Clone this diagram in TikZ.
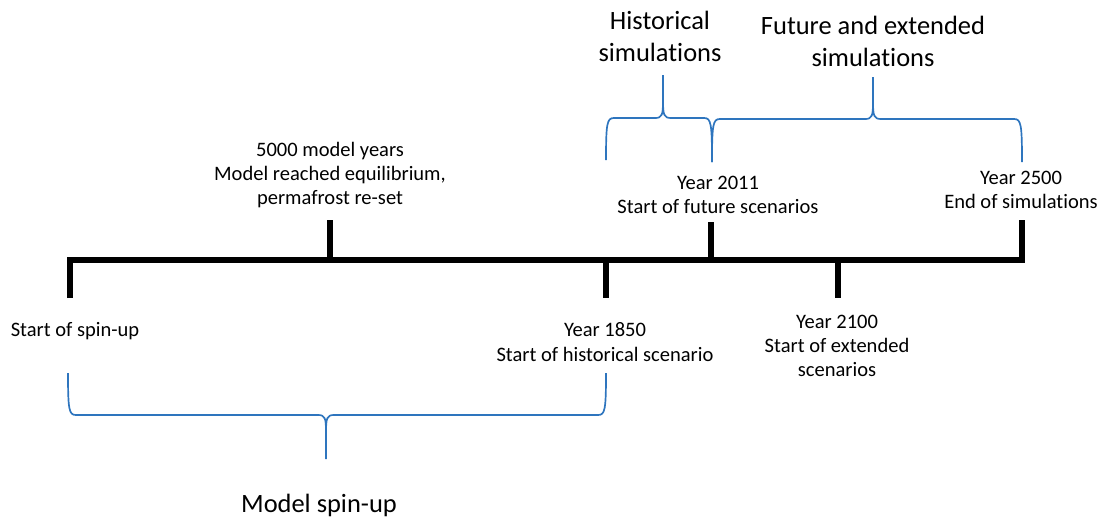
\documentclass[tikz,border=0pt]{standalone}
\usepackage{fontspec}
\setmainfont{Carlito}[Ligatures=NoCommon]
\usetikzlibrary{positioning}
\definecolor{braceblue}{RGB}{46,117,190}
\tikzset{
  timeline/.style={line width=3.6pt, line join=miter},
  tickmark/.style={line width=3.6pt},
  braceline/.style={braceblue, line width=1.2pt},
  lbl/.style={align=center, inner sep=0pt, font=\fontsize{14.6}{17.2}\selectfont},
  biglbl/.style={align=center, inner sep=0pt, font=\fontsize{18.8}{22.8}\selectfont}
}
\begin{document}
\begin{tikzpicture}[x=0.025cm, y=-0.025cm]
  \useasboundingbox (0,0) rectangle (1104,521);

  % points on the time line
  \coordinate (t0) at (70,260);
  \coordinate (teq) at (330,260);
  \coordinate (t1850) at (606,260);
  \coordinate (t2011) at (711,260);
  \coordinate (t2100) at (838,260);
  \coordinate (t2500) at (1022,260);

  \draw[timeline] (70,298) -- (t0) -- (t2500) -- (1022,220);
  \draw[tickmark] (teq) -- (330,220);
  \draw[tickmark] (t1850) -- (606,298);
  \draw[tickmark] (t2011) -- (711,222);
  \draw[tickmark] (t2100) -- (838,298);

  % labels
  \node (spinstart) [lbl] at (75,331) {Start of spin-up};
  \node (equil) [lbl] at (330,175) {5000 model years\\Model reached equilibrium,\\permafrost re-set};
  \node (y1850) [lbl] at (605,342) {Year 1850\\Start of historical scenario};
  \node (y2011) [lbl] at (718,195) {Year 2011\\Start of future scenarios};
  \node (y2100) [lbl] at (837,346) {Year 2100\\Start of extended\\scenarios};
  \node (y2500) [lbl] at (1021,190) {Year 2500\\End of simulations};

  % braces
  \draw[braceline] (68,373) .. controls (68,410) and (69,415) .. (76,415) -- (318,415)
    .. controls (325,415) and (326,418) .. (326,432) -- (326,459);
  \draw[braceline] (326,432) .. controls (326,418) and (327,415) .. (334,415) -- (598,415)
    .. controls (605,415) and (606,410) .. (606,373);

  \draw[braceline] (606,160) .. controls (606,123) and (607,118) .. (614,118) -- (655,118)
    .. controls (662,118) and (663,115) .. (663,101) -- (663,75);
  \draw[braceline] (663,101) .. controls (663,115) and (664,118) .. (671,118) -- (704,118)
    .. controls (711,118) and (712,123) .. (712,162);

  \draw[braceline] (712,162) .. controls (712,124) and (713,119) .. (720,119) -- (865,119)
    .. controls (872,119) and (873,116) .. (873,102) -- (873,77);
  \draw[braceline] (873,102) .. controls (873,116) and (874,119) .. (881,119) -- (1014,119)
    .. controls (1021,119) and (1022,124) .. (1022,162);

  \node (spinup) [biglbl] at (319,505) {Model spin-up};
  \node (histsim) [biglbl] at (660,36) {Historical\\simulations};
  \node (futsim) [biglbl] at (873,41) {Future and extended\\simulations};
\end{tikzpicture}
\end{document}
